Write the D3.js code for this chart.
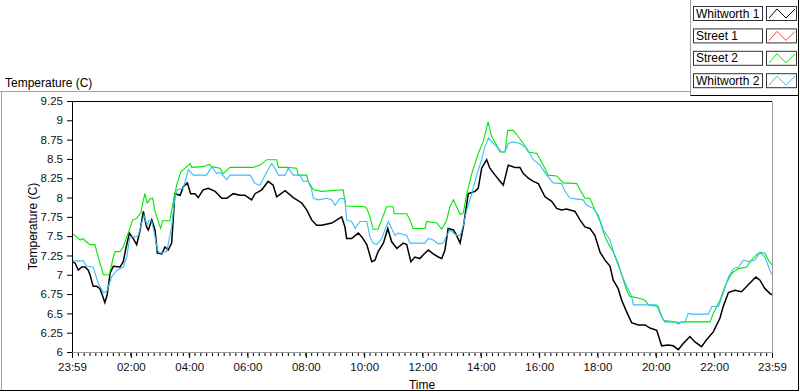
<!DOCTYPE html>
<html>
<head>
<meta charset="utf-8">
<script src="https://cdn.jsdelivr.net/npm/d3@7"></script>
<style>
body { margin: 0; background: #fff; }
svg { display: block; font-family: "Liberation Sans", Arial, sans-serif; }
</style>
</head>
<body>
<svg class="chart"></svg>
<script>
// hours after midnight (23:59 of the day before = -0.02)
var whitworth1Hours = [-0.02, 0.09, 0.20, 0.32, 0.43, 0.54, 0.60, 0.71, 0.83, 0.94,
    1.04, 1.11, 1.19, 1.29, 1.40, 1.63, 1.74, 1.83, 1.95, 2.08,
    2.20, 2.31, 2.43, 2.54, 2.60, 2.72, 2.83, 2.91, 3.06, 3.17,
    3.28, 3.40, 3.51, 3.69, 3.80, 3.94, 4.05, 4.20, 4.31, 4.48,
    4.66, 4.89, 5.12, 5.29, 5.51, 5.74, 5.91, 6.14, 6.26, 6.49,
    6.71, 6.88, 7.00, 7.29, 7.57, 7.86, 8.03, 8.20, 8.37, 8.54,
    8.89, 9.23, 9.34, 9.40, 9.57, 9.80, 9.92, 10.09, 10.26, 10.37,
    10.48, 10.66, 10.81, 10.94, 11.12, 11.34, 11.46, 11.60, 11.74, 11.91,
    12.03, 12.20, 12.37, 12.54, 12.66, 12.77, 12.88, 13.06, 13.17, 13.29,
    13.40, 13.57, 13.80, 13.91, 14.03, 14.20, 14.31, 14.49, 14.66, 14.77,
    14.94, 15.17, 15.34, 15.46, 15.63, 15.80, 15.97, 16.20, 16.43, 16.60,
    16.77, 16.94, 17.23, 17.40, 17.57, 17.74, 17.91, 18.09, 18.26, 18.43,
    18.54, 18.71, 18.83, 19.00, 19.17, 19.40, 19.63, 19.80, 20.03, 20.20,
    20.43, 20.60, 20.77, 20.94, 21.17, 21.34, 21.57, 21.74, 21.97, 22.20,
    22.31, 22.49, 22.71, 22.94, 23.17, 23.43, 23.57, 23.74, 23.91, 23.98];
var whitworth1Temps = [7.17, 7.15, 7.06, 7.10, 7.10, 7.06, 7.00, 6.85, 6.85, 6.82,
    6.72, 6.64, 6.74, 7.02, 7.11, 7.10, 7.17, 7.34, 7.54, 7.47,
    7.39, 7.56, 7.82, 7.62, 7.58, 7.71, 7.58, 7.28, 7.27, 7.36,
    7.32, 7.41, 8.05, 8.03, 8.14, 8.19, 8.05, 8.05, 8.00, 8.10,
    8.12, 8.08, 7.99, 7.99, 8.05, 8.03, 8.03, 7.97, 8.05, 8.10,
    8.21, 8.16, 8.01, 8.09, 8.00, 7.93, 7.84, 7.71, 7.64, 7.64,
    7.67, 7.75, 7.62, 7.47, 7.47, 7.54, 7.49, 7.39, 7.17, 7.19,
    7.30, 7.41, 7.60, 7.43, 7.34, 7.41, 7.39, 7.17, 7.23, 7.21,
    7.26, 7.32, 7.27, 7.23, 7.21, 7.32, 7.60, 7.58, 7.51, 7.41,
    7.62, 8.05, 8.08, 8.12, 8.38, 8.49, 8.38, 8.29, 8.21, 8.16,
    8.42, 8.39, 8.39, 8.31, 8.25, 8.21, 8.18, 8.01, 7.95, 7.86,
    7.84, 7.85, 7.82, 7.71, 7.62, 7.60, 7.51, 7.29, 7.19, 7.11,
    6.93, 6.82, 6.67, 6.52, 6.38, 6.35, 6.35, 6.31, 6.28, 6.08,
    6.09, 6.08, 6.03, 6.11, 6.20, 6.13, 6.07, 6.16, 6.26, 6.44,
    6.59, 6.77, 6.80, 6.78, 6.87, 6.97, 6.93, 6.82, 6.76, 6.74];

var street1Hours = [];
var street1Temps = [];

var street2Hours = [-0.02, 0.14, 0.26, 0.37, 0.43, 0.60, 0.77, 0.88, 1.06, 1.26,
    1.40, 1.46, 1.63, 1.74, 1.86, 1.97, 2.06, 2.20, 2.34, 2.41,
    2.48, 2.56, 2.66, 2.75, 2.83, 2.92, 3.02, 3.09, 3.34, 3.40,
    3.48, 3.57, 3.71, 3.86, 4.03, 4.09, 4.48, 4.69, 4.77, 5.06,
    5.17, 5.40, 6.20, 6.43, 6.66, 7.00, 7.06, 7.34, 7.69, 7.74,
    8.03, 8.08, 8.26, 8.54, 9.28, 9.37, 10.03, 10.09, 10.20, 10.31,
    10.48, 10.60, 10.77, 11.00, 11.03, 11.46, 11.57, 11.68, 12.09, 12.14,
    12.49, 12.66, 12.83, 12.94, 13.06, 13.17, 13.29, 13.40, 13.52, 13.69,
    13.91, 14.08, 14.25, 14.37, 14.54, 14.66, 14.83, 14.92, 15.11, 15.28,
    15.46, 15.63, 15.92, 16.14, 16.31, 16.60, 16.83, 17.29, 17.40, 17.57,
    17.74, 17.91, 18.09, 18.26, 18.43, 18.54, 18.71, 18.83, 19.00, 19.11,
    19.40, 19.63, 19.75, 20.08, 20.20, 20.31, 20.66, 20.77, 20.89, 21.86,
    21.97, 22.20, 22.37, 22.60, 22.83, 23.12, 23.23, 23.46, 23.57, 23.74,
    23.86, 23.98];
var street2Temps = [7.54, 7.49, 7.45, 7.47, 7.44, 7.39, 7.39, 7.23, 7.00, 7.00,
    7.23, 7.30, 7.30, 7.36, 7.49, 7.60, 7.71, 7.73, 7.80, 7.93,
    8.05, 7.93, 7.98, 7.99, 7.82, 7.71, 7.60, 7.70, 7.70, 7.84,
    7.99, 8.16, 8.33, 8.38, 8.44, 8.39, 8.40, 8.43, 8.40, 8.38,
    8.31, 8.39, 8.39, 8.42, 8.49, 8.49, 8.39, 8.39, 8.38, 8.29,
    8.29, 8.21, 8.10, 8.08, 8.10, 7.89, 7.88, 7.86, 7.75, 7.59,
    7.59, 7.71, 7.88, 7.88, 7.79, 7.79, 7.71, 7.60, 7.60, 7.69,
    7.67, 7.59, 7.71, 7.88, 7.97, 7.88, 7.78, 7.80, 8.05, 8.31,
    8.57, 8.72, 8.98, 8.79, 8.68, 8.59, 8.59, 8.87, 8.87, 8.79,
    8.70, 8.59, 8.57, 8.42, 8.29, 8.28, 8.19, 8.18, 8.10, 7.99,
    7.99, 7.84, 7.69, 7.49, 7.36, 7.30, 7.15, 7.00, 6.80, 6.72,
    6.70, 6.67, 6.61, 6.59, 6.46, 6.39, 6.39, 6.36, 6.39, 6.39,
    6.50, 6.67, 6.85, 7.02, 7.08, 7.10, 7.17, 7.26, 7.29, 7.28,
    7.19, 7.13];

var whitworth2Hours = [-0.02, 0.37, 0.49, 0.71, 0.88, 1.06, 1.17, 1.34, 1.52, 1.74,
    1.86, 1.97, 2.14, 2.26, 2.37, 2.45, 2.56, 2.63, 2.72, 2.83,
    2.91, 3.00, 3.23, 3.40, 3.51, 3.59, 3.80, 3.97, 4.14, 4.60,
    4.77, 4.94, 5.06, 5.29, 5.40, 6.09, 6.26, 6.43, 6.66, 6.83,
    6.94, 7.06, 7.29, 7.40, 7.57, 7.80, 7.91, 8.08, 8.20, 8.26,
    8.43, 8.72, 8.89, 9.00, 9.17, 9.34, 9.40, 9.57, 9.69, 9.86,
    10.09, 10.20, 10.31, 10.43, 10.60, 10.71, 10.83, 10.94, 11.06, 11.17,
    11.46, 11.57, 12.09, 12.20, 12.37, 12.54, 12.71, 12.83, 12.94, 13.17,
    13.29, 13.40, 13.52, 13.69, 13.86, 14.03, 14.14, 14.26, 14.49, 14.72,
    14.83, 14.94, 15.11, 15.34, 15.57, 15.80, 16.03, 16.26, 16.48, 16.77,
    16.89, 17.06, 17.51, 17.63, 17.86, 18.03, 18.20, 18.43, 18.60, 18.77,
    19.00, 19.17, 19.23, 20.03, 20.14, 20.26, 20.66, 20.83, 21.00, 21.11,
    21.23, 21.80, 21.92, 22.15, 22.31, 22.49, 22.66, 22.83, 23.00, 23.17,
    23.40, 23.57, 23.74, 23.91, 23.98];
var whitworth2Temps = [7.18, 7.18, 7.11, 7.10, 6.89, 6.77, 6.78, 6.97, 7.06, 7.10,
    7.23, 7.49, 7.49, 7.51, 7.67, 7.77, 7.64, 7.71, 7.69, 7.49,
    7.32, 7.28, 7.30, 7.62, 8.00, 8.10, 8.12, 8.36, 8.29, 8.29,
    8.40, 8.31, 8.33, 8.23, 8.29, 8.29, 8.18, 8.16, 8.33, 8.44,
    8.38, 8.29, 8.29, 8.38, 8.29, 8.29, 8.21, 8.21, 8.10, 7.99,
    7.97, 7.99, 7.97, 7.90, 7.99, 7.98, 7.71, 7.69, 7.60, 7.69,
    7.69, 7.49, 7.41, 7.39, 7.47, 7.58, 7.69, 7.60, 7.51, 7.54,
    7.51, 7.41, 7.41, 7.47, 7.45, 7.40, 7.41, 7.51, 7.58, 7.51,
    7.51, 7.64, 7.84, 8.05, 8.29, 8.49, 8.66, 8.77, 8.68, 8.59,
    8.59, 8.70, 8.72, 8.70, 8.64, 8.49, 8.42, 8.29, 8.19, 8.18,
    8.08, 7.99, 7.97, 7.90, 7.86, 7.77, 7.58, 7.45, 7.23, 7.06,
    6.85, 6.72, 6.61, 6.61, 6.50, 6.41, 6.39, 6.38, 6.39, 6.50,
    6.49, 6.49, 6.59, 6.59, 6.76, 6.97, 7.08, 7.10, 7.19, 7.17,
    7.19, 7.29, 7.23, 7.06, 7.00];

var seriesNames = ["Whitworth 1", "Street 1", "Street 2", "Whitworth 2"];
var seriesColors = ["#000000", "#ff3c3c", "#00e800", "#3cbcf4"];

var xTickHours = [-1 / 60, 2, 4, 6, 8, 10, 12, 14, 16, 18, 20, 22, 24 - 1 / 60];
var xTickLabels = ["23:59", "02:00", "04:00", "06:00", "08:00", "10:00", "12:00",
    "14:00", "16:00", "18:00", "20:00", "22:00", "23:59"];
var yTicks = [6, 6.25, 6.5, 6.75, 7, 7.25, 7.5, 7.75, 8, 8.25, 8.5, 8.75, 9, 9.25];

function show() {
    'use strict';

    var W = 800, H = 392;
    var margin = { top: 101, left: 72 },
        width = 700,
        height = 251;

    var svg = d3.select(".chart")
        .attr("width", W)
        .attr("height", H);

    var x = d3.scaleLinear()
        .domain([xTickHours[0], xTickHours[xTickHours.length - 1]])
        .range([0, width]);
    var y = d3.scaleLinear()
        .domain([6, 9.25])
        .range([height, 0]);

    // outer frame
    svg.append("line").attr("x1", 0).attr("x2", 690).attr("y1", 91.5).attr("y2", 91.5)
        .attr("stroke", "#a0a0a0");
    svg.append("line").attr("x1", 1.5).attr("x2", 1.5).attr("y1", 91.5).attr("y2", 391)
        .attr("stroke", "#a0a0a0");
    svg.append("line").attr("x1", 0).attr("x2", 799).attr("y1", 390.5).attr("y2", 390.5)
        .attr("stroke", "#000");
    svg.append("line").attr("x1", 798.5).attr("x2", 798.5).attr("y1", 0).attr("y2", 391)
        .attr("stroke", "#000");

    // legend panel frame
    svg.append("line").attr("x1", 690.5).attr("x2", 690.5).attr("y1", 0).attr("y2", 95.5)
        .attr("stroke", "#a0a0a0");
    svg.append("line").attr("x1", 690.5).attr("x2", 799).attr("y1", 95.5).attr("y2", 95.5)
        .attr("stroke", "#000");

    svg.append("text")
        .attr("x", 5).attr("y", 87)
        .attr("font-size", 12)
        .text("Temperature (C)");

    var chart = svg.append("g")
        .attr("transform", "translate(" + margin.left + "," + margin.top + ")");

    // y axis
    var yAxis = chart.append("g")
        .call(d3.axisLeft(y).tickValues(yTicks).tickSize(5).tickPadding(4)
            .tickFormat(function(d) { return String(+d.toFixed(2)); }));
    yAxis.select(".domain").remove();
    yAxis.selectAll("text").attr("font-size", 11.5).attr("font-family", "Liberation Sans, Arial, sans-serif")
        .attr("fill", "#111");

    // x axis, minor then major ticks
    var minor = [];
    for (var m = 0; m < 24 * 60; m += 12) minor.push(m / 60 - 1 / 60);
    var xMinor = chart.append("g")
        .attr("transform", "translate(0," + (height + 1) + ")")
        .call(d3.axisBottom(x).tickValues(minor).tickSize(3).tickFormat(""));
    xMinor.select(".domain").remove();

    var xAxis = chart.append("g")
        .attr("transform", "translate(0," + (height + 1) + ")")
        .call(d3.axisBottom(x).tickValues(xTickHours).tickSize(5).tickPadding(5)
            .tickFormat(function(d, i) { return xTickLabels[i]; }));
    xAxis.select(".domain").remove();
    xAxis.selectAll("text").attr("font-size", 11.5).attr("font-family", "Liberation Sans, Arial, sans-serif")
        .attr("fill", "#111");

    // plot border: dark top-left, grey bottom-right
    chart.append("path")
        .attr("d", "M0.5," + (height + 1) + "V0.5H" + width)
        .attr("fill", "none").attr("stroke", "#000");
    chart.append("path")
        .attr("d", "M" + (width + 0.5) + ",0.5V" + (height + 0.5) + "H0.5")
        .attr("fill", "none").attr("stroke", "#9a9a9a");

    chart.append("text")
        .attr("x", width / 2).attr("y", 288)
        .attr("text-anchor", "middle")
        .attr("font-size", 12)
        .text("Time");

    chart.append("text")
        .attr("transform", "translate(" + (-35) + "," + (height / 2) + ") rotate(-90)")
        .attr("text-anchor", "middle")
        .attr("font-size", 12)
        .text("Temperature (C)");

    chart.append("clipPath").attr("id", "plotclip")
        .append("rect").attr("x", 1).attr("y", 1).attr("width", width - 1).attr("height", height);

    var series = [
        d3.zip(whitworth1Hours, whitworth1Temps),
        d3.zip(street1Hours, street1Temps),
        d3.zip(street2Hours, street2Temps),
        d3.zip(whitworth2Hours, whitworth2Temps)
    ];

    var line = d3.line()
        .x(function(d) { return x(d[0]); })
        .y(function(d) { return y(d[1]); });

    chart.append("g").attr("clip-path", "url(#plotclip)")
        .selectAll("path")
        .data(series)
        .enter().append("path")
        .attr("fill", "none")
        .attr("stroke", function(d, i) { return seriesColors[i]; })
        .attr("stroke-width", function(d, i) { return i === 0 ? 1.5 : 1.1; })
        .attr("d", function(d) { return d.length ? line(d) : null; });

    // legend
    var legend = svg.append("g").selectAll("g")
        .data(seriesNames)
        .enter().append("g")
        .attr("transform", function(d, i) { return "translate(693," + (6 + i * 22.4) + ")"; });

    legend.append("rect")
        .attr("x", 0.5).attr("y", 0.5)
        .attr("width", 69).attr("height", 14)
        .attr("fill", "#fff").attr("stroke", "#333");
    legend.append("text")
        .attr("x", 3).attr("y", 11.5)
        .attr("font-size", 12)
        .text(function(d) { return d; });
    legend.append("rect")
        .attr("x", 73.5).attr("y", 0.5)
        .attr("width", 30).attr("height", 14)
        .attr("fill", "#fff").attr("stroke", "#333");
    legend.append("path")
        .attr("d", "M76,12L84,3L93,12L102,3")
        .attr("fill", "none")
        .attr("stroke", function(d, i) { return seriesColors[i]; });
}

show();
</script>
</body>
</html>
